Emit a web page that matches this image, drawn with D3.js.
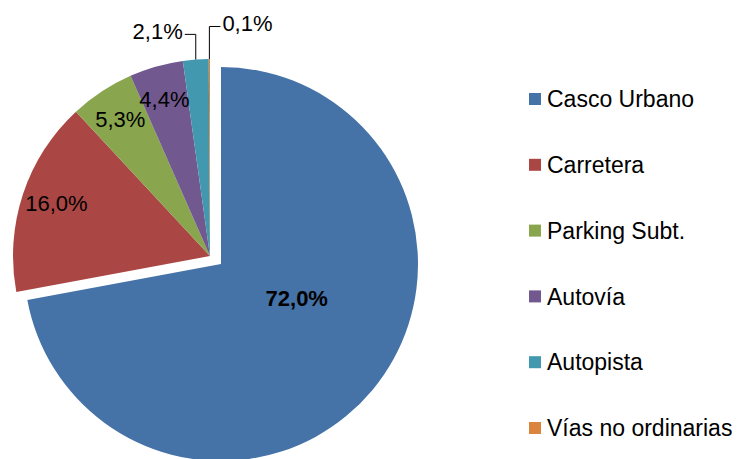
<!DOCTYPE html>
<html>
<head>
<meta charset="utf-8">
<script src="https://cdn.jsdelivr.net/npm/d3@7"></script>
<style>
  body { margin: 0; background: #fff; }
  text { font-family: "Liberation Sans", Arial, sans-serif; fill: #000; }
</style>
</head>
<body>
<div id="chart"></div>
<script>
// données du graphique
var categories = ["Casco Urbano", "Carretera", "Parking Subt.", "Autovía", "Autopista", "Vías no ordinarias"];
var valeurs = [72.0, 16.0, 5.3, 4.4, 2.1, 0.1];
var etiquettes = ["72,0%", "16,0%", "5,3%", "4,4%", "2,1%", "0,1%"];
var couleurs = ["#4572A7", "#AA4643", "#89A54E", "#71588F", "#4198AF", "#DB843D"];

var width = 738, height = 459;
var rayon = 197;
var centreBleu = [221, 264];     // centre of the big slice
var centreAutres = [210, 256];   // exploded group of the other slices

var svg = d3.select("#chart").append("svg")
    .attr("width", width)
    .attr("height", height);

var colorScale = d3.scaleOrdinal().domain(categories).range(couleurs);

var pie = d3.pie().sort(null).value(d => d.v);
var arcs = pie(categories.map((c, i) => ({ c: c, v: valeurs[i], lab: etiquettes[i] })));

var arc = d3.arc().innerRadius(0).outerRadius(rayon);
var arcLabel = d3.arc().innerRadius(rayon * 0.81).outerRadius(rayon * 0.81);

function centre(i) { return i === 0 ? centreBleu : centreAutres; }

// parts
svg.selectAll("path.part")
    .data(arcs)
    .enter()
    .append("path")
    .attr("class", "part")
    .attr("transform", (d, i) => "translate(" + centre(i) + ")")
    .attr("d", arc)
    .style("fill", d => colorScale(d.data.c));

// étiquettes
arcs.forEach(function(d, i) {
    var c = centre(i);
    if (i === 0) {
        var p = arc.centroid(d);
        svg.append("text")
            .attr("x", c[0] + p[0])
            .attr("y", c[1] + p[1] - 29)
            .attr("dy", "0.35em")
            .style("text-anchor", "middle")
            .style("font-size", "22px")
            .style("font-weight", "bold")
            .text(d.data.lab);
    } else if (d.data.v > 3) {
        var p = arcLabel.centroid(d);
        svg.append("text")
            .attr("x", c[0] + p[0] - 2)
            .attr("y", c[1] + p[1] - 3)
            .attr("dy", "0.35em")
            .style("text-anchor", "middle")
            .style("font-size", "22px")
            .text(d.data.lab);
    } else {
        // petites parts : étiquette extérieure avec ligne de rappel
        var a = (d.startAngle + d.endAngle) / 2;
        var x0 = c[0] + Math.sin(a) * rayon;
        var y0 = c[1] - Math.cos(a) * rayon;
        var droite = i === arcs.length - 1;
        var yCoude = c[1] - rayon * (droite ? 1.165 : 1.125);
        var x1 = x0 + (droite ? 11 : -11);
        svg.append("polyline")
            .attr("points", [[x0, y0], [x0, yCoude], [x1, yCoude]].map(q => q.join(",")).join(" "))
            .style("fill", "none")
            .style("stroke", "#000")
            .style("stroke-width", 1);
        svg.append("text")
            .attr("x", x1 + (droite ? 2 : -2))
            .attr("y", yCoude - 3)
            .attr("dy", "0.35em")
            .style("text-anchor", droite ? "start" : "end")
            .style("font-size", "22px")
            .text(d.data.lab);
    }
});

// légende
var legende = svg.append("g")
    .attr("transform", "translate(529,99)");

var items = legende.selectAll("g")
    .data(categories)
    .enter()
    .append("g")
    .attr("transform", (d, i) => "translate(0," + (i * 65.8) + ")");

items.append("rect")
    .attr("x", 0)
    .attr("y", -6)
    .attr("width", 12)
    .attr("height", 12)
    .style("fill", d => colorScale(d));

items.append("text")
    .attr("x", 18)
    .attr("y", 0)
    .attr("dy", "0.36em")
    .style("font-size", "23px")
    .text(d => d);
</script>
</body>
</html>
